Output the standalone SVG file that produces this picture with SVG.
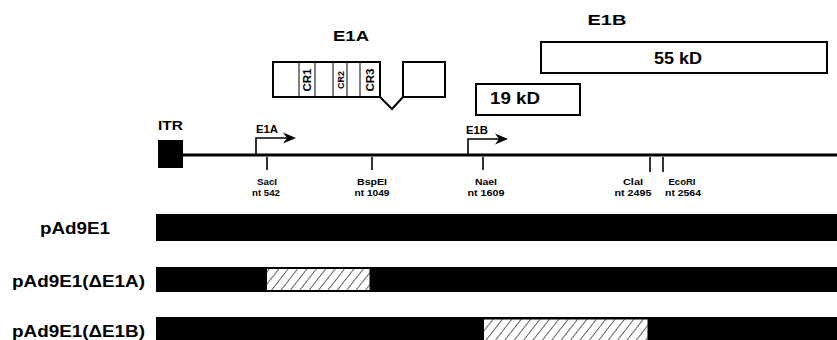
<svg xmlns="http://www.w3.org/2000/svg" width="837" height="340" viewBox="0 0 837 340">
<style>
text{font-family:"Liberation Sans",Arial,sans-serif;font-weight:bold;fill:#000}
.box{fill:#fff;stroke:#000;stroke-width:2}
.thin{fill:none;stroke:#000;stroke-width:1}
.tick{stroke:#000;stroke-width:1.6}
.site{font-size:9px;text-anchor:middle}
.title{font-size:14.5px;text-anchor:middle}
.lbl{font-size:16.5px}
.bar{fill:#000}
.hatch{fill:url(#hatch);stroke:#000;stroke-width:1}
</style>
<defs>
<pattern id="hatch" patternUnits="userSpaceOnUse" width="7.4" height="7.4" patternTransform="rotate(38)">
<rect width="7.4" height="7.4" fill="#fff"/>
<line x1="0" y1="0" x2="0" y2="7.4" stroke="#000" stroke-width="1.2"/>
</pattern>
</defs>
<rect width="837" height="340" fill="#fff"/>

<g id="e1a-gene">
<text class="title" x="351" y="41" textLength="36" lengthAdjust="spacingAndGlyphs">E1A</text>
<rect class="box" x="273" y="62" width="107" height="35"/>
<line class="thin" x1="299" y1="62" x2="299" y2="97"/>
<line class="thin" x1="315" y1="62" x2="315" y2="97"/>
<line class="thin" x1="333" y1="62" x2="333" y2="97"/>
<line class="thin" x1="347" y1="62" x2="347" y2="97"/>
<line class="thin" x1="360" y1="62" x2="360" y2="97"/>
<text transform="translate(311,80) rotate(-90)" style="font-size:11.5px;text-anchor:middle">CR1</text>
<text transform="translate(344,80) rotate(-90)" style="font-size:9px;text-anchor:middle">CR2</text>
<text transform="translate(374,80) rotate(-90)" style="font-size:11.5px;text-anchor:middle">CR3</text>
<polyline points="380,97 392,109 403,97" fill="none" stroke="#000" stroke-width="2"/>
<rect class="box" x="403" y="62" width="42" height="35"/>
</g>

<g id="e1b-gene">
<text class="title" x="607" y="25" textLength="39" lengthAdjust="spacingAndGlyphs">E1B</text>
<rect class="box" x="541" y="42" width="286" height="31"/>
<text class="title" x="678" y="64" style="font-size:16px" textLength="48" lengthAdjust="spacingAndGlyphs">55 kD</text>
<rect class="box" x="476" y="84" width="104" height="31"/>
<text class="title" x="515" y="104" style="font-size:16px" textLength="50" lengthAdjust="spacingAndGlyphs">19 kD</text>
</g>

<g id="genome-map">
<text x="158" y="130" style="font-size:13px" textLength="25" lengthAdjust="spacingAndGlyphs">ITR</text>
<rect x="158" y="140" width="25" height="28" fill="#000"/>
<line x1="181" y1="155" x2="837" y2="155" stroke="#000" stroke-width="3"/>
</g>

<g id="promoters">
<text x="256" y="133" style="font-size:10.5px" textLength="22" lengthAdjust="spacingAndGlyphs">E1A</text>
<polyline points="256,155 256,138 288,138" fill="none" stroke="#000" stroke-width="1.6"/>
<polygon points="283,132.5 296,138 283,143.5 287,138" fill="#000"/>
<text x="466" y="134" style="font-size:10.5px" textLength="22" lengthAdjust="spacingAndGlyphs">E1B</text>
<polyline points="468,155 468,139 500,139" fill="none" stroke="#000" stroke-width="1.6"/>
<polygon points="495,133.5 508,139 495,144.5 499,139" fill="#000"/>
</g>

<g id="sites">
<line class="tick" x1="267" y1="157" x2="267" y2="170"/>
<text class="site" x="267" y="185" textLength="20" lengthAdjust="spacingAndGlyphs">SacI</text>
<text class="site" x="266" y="196" textLength="28" lengthAdjust="spacingAndGlyphs">nt 542</text>
<line class="tick" x1="372" y1="157" x2="372" y2="170"/>
<text class="site" x="372" y="185" textLength="30" lengthAdjust="spacingAndGlyphs">BspEI</text>
<text class="site" x="372" y="196" textLength="35" lengthAdjust="spacingAndGlyphs">nt 1049</text>
<line class="tick" x1="483" y1="157" x2="483" y2="170"/>
<text class="site" x="486" y="185" textLength="22" lengthAdjust="spacingAndGlyphs">NaeI</text>
<text class="site" x="486" y="196" textLength="37" lengthAdjust="spacingAndGlyphs">nt 1609</text>
<line class="tick" x1="650" y1="157" x2="650" y2="172"/>
<text class="site" x="633" y="185" textLength="20" lengthAdjust="spacingAndGlyphs">ClaI</text>
<text class="site" x="633" y="196" textLength="37" lengthAdjust="spacingAndGlyphs">nt 2495</text>
<line class="tick" x1="663" y1="157" x2="663" y2="172"/>
<text class="site" x="682" y="185" textLength="27" lengthAdjust="spacingAndGlyphs">EcoRI</text>
<text class="site" x="683" y="196" textLength="36" lengthAdjust="spacingAndGlyphs">nt 2564</text>
</g>

<g id="pAd9E1">
<text class="lbl" x="40" y="234" textLength="70" lengthAdjust="spacingAndGlyphs">pAd9E1</text>
<rect class="bar" x="156" y="214" width="681" height="27"/>
</g>

<g id="pAd9E1-dE1A">
<text class="lbl" x="12" y="287" textLength="133" lengthAdjust="spacingAndGlyphs">pAd9E1(ΔE1A)</text>
<rect class="bar" x="156" y="267" width="681" height="25"/>
<rect class="hatch" x="266.5" y="268.5" width="103.5" height="22"/>
</g>

<g id="pAd9E1-dE1B">
<text class="lbl" x="12" y="337" textLength="133" lengthAdjust="spacingAndGlyphs">pAd9E1(ΔE1B)</text>
<rect class="bar" x="156" y="317" width="681" height="23"/>
<rect class="hatch" x="483.5" y="319" width="164.5" height="21.5"/>
</g>
</svg>
